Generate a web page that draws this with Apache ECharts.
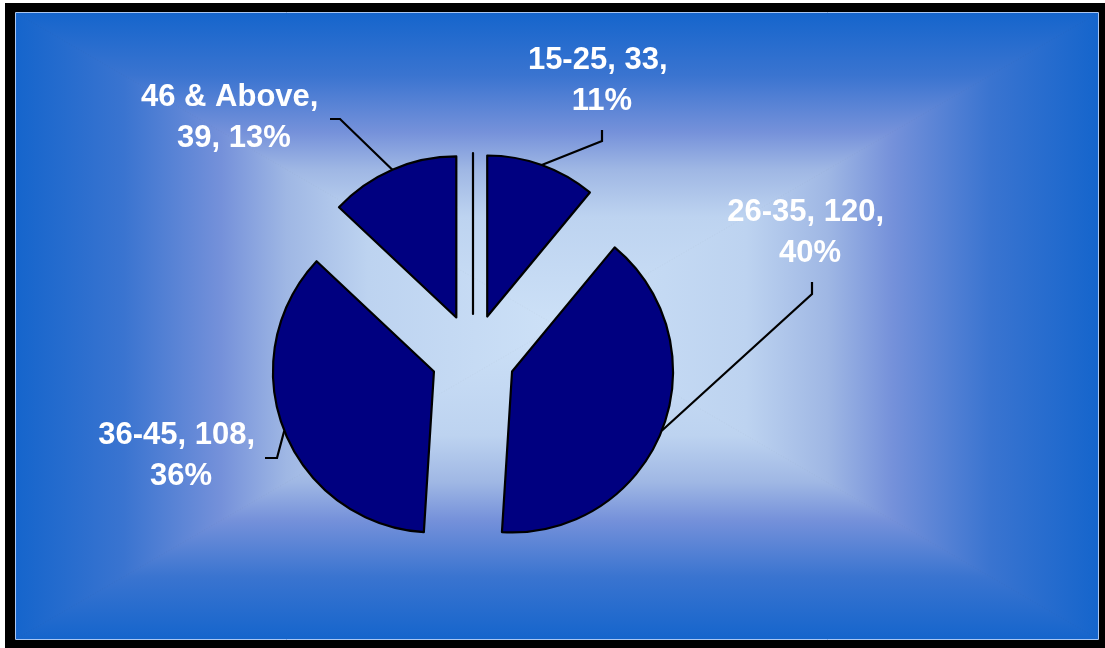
<!DOCTYPE html>
<html>
<head>
<meta charset="utf-8">
<script src="https://cdn.jsdelivr.net/npm/echarts@6/dist/echarts.min.js"></script>
<style>
  html, body { margin: 0; padding: 0; background: #fff; }
  #chart { width: 1105px; height: 648px; }
</style>
</head>
<body>
<div id="chart"></div>
<script>
// age groups (first one is the empty group that only shows as a thin line)
var categories = ['', '15-25', '26-35', '36-45', '46 & Above'];
var counts = [0, 33, 120, 108, 39];

// label block centres and leader line bends (relative to the label centre)
var labelSpots = [null, [602, 81], [810, 233], [181, 456], [234, 118]];
var lineBends = [null,
  [[0, 60], [0, 49]],
  [[2, 61], [2, 49]],
  [[96, 2], [84, 2]],
  [[106, 1], [96, 1]]
];

var PIE_C = [473, 356], PIE_R = 161, EXPLODE = 42;
var L = 16, T = 13, R = 1098, B = 639;
var cx = (L + R) / 2, cy = (T + B) / 2;

function fade(x, y, x2, y2) {
  return {
    type: 'linear', x: x, y: y, x2: x2, y2: y2,
    colorStops: [
      { offset: 0, color: '#1565cc' },
      { offset: 0.2, color: '#3a74d0' },
      { offset: 0.38, color: '#7591da' },
      { offset: 0.5, color: '#9fb7e4' },
      { offset: 0.65, color: '#bdd3f0' },
      { offset: 1, color: '#cde1f7' }
    ]
  };
}

function tri(pts, grad) {
  return {
    type: 'polygon', z: -10, silent: true,
    shape: { points: pts },
    style: { fill: grad, stroke: grad, lineWidth: 1 }
  };
}

function makeData(sel) {
  return categories.map(function (c, i) {
    var item = { name: c, value: counts[i], selected: sel };
    if (!labelSpots[i]) {
      item.label = { show: false };
      item.labelLine = { show: false };
    }
    return item;
  });
}

var labelFont = {
  formatter: '{b}, {c}, {d}%',
  fontFamily: '"Liberation Sans", Arial, sans-serif',
  fontWeight: 'bold',
  fontSize: 31,
  lineHeight: 41,
  width: 188,
  overflow: 'break',
  align: 'center'
};

var myChart = echarts.init(document.getElementById('chart'));

var option = {
  backgroundColor: 'transparent',
  animation: false,
  graphic: [
    { type: 'rect', z: -20, silent: true, shape: { x: 5, y: 3, width: 1100, height: 645 }, style: { fill: '#000' } },
    tri([[L, T], [R, T], [cx, cy]], fade(0, 0, 0, 1)),
    tri([[L, B], [R, B], [cx, cy]], fade(0, 1, 0, 0)),
    tri([[L, T], [L, B], [cx, cy]], fade(0, 0, 1, 0)),
    tri([[R, T], [R, B], [cx, cy]], fade(1, 0, 0, 0)),
    { type: 'rect', z: -5, silent: true, shape: { x: L - 0.5, y: T - 0.5, width: R - L + 1, height: B - T + 1 }, style: { fill: null, stroke: '#a9c6f2', lineWidth: 1 } }
  ],
  series: [{
    // exploded slices + leader lines
    type: 'pie',
    center: PIE_C,
    radius: PIE_R,
    startAngle: 90,
    clockwise: true,
    selectedMode: 'multiple',
    selectedOffset: EXPLODE,
    avoidLabelOverlap: false,
    percentPrecision: 0,
    minShowLabelAngle: 0,
    silent: true,
    itemStyle: { color: '#000080', borderColor: '#000', borderWidth: 2.2 },
    label: echarts.util.extend({ show: true, position: 'outside', color: 'rgba(0,0,0,0)' }, labelFont),
    labelLine: { show: true, lineStyle: { color: '#000', width: 2.2 } },
    labelLayout: function (params) {
      var i = params.dataIndex;
      var p = labelSpots[i];
      if (!p || !params.labelLinePoints) return {};
      var start = params.labelLinePoints[0];
      // the line gets moved along with its slice, so take that shift back out
      var vx = start[0] - PIE_C[0], vy = start[1] - PIE_C[1];
      var len = Math.sqrt(vx * vx + vy * vy) || 1;
      var ox = vx / len * EXPLODE, oy = vy / len * EXPLODE;
      var b = lineBends[i];
      return {
        labelLinePoints: [
          start,
          [p[0] + b[0][0] - ox, p[1] + b[0][1] - oy],
          [p[0] + b[1][0] - ox, p[1] + b[1][1] - oy]
        ]
      };
    },
    data: makeData(true)
  }, {
    // label texts
    type: 'pie',
    center: PIE_C,
    radius: PIE_R,
    startAngle: 90,
    clockwise: true,
    selectedMode: false,
    avoidLabelOverlap: false,
    percentPrecision: 0,
    minShowLabelAngle: 0,
    silent: true,
    z: 5,
    itemStyle: { color: 'rgba(0,0,0,0)', borderWidth: 0 },
    label: echarts.util.extend({ show: true, position: 'outside', color: '#fff' }, labelFont),
    labelLine: { show: false },
    labelLayout: function (params) {
      var p = labelSpots[params.dataIndex];
      if (!p) return {};
      return { x: p[0], y: p[1], align: 'center', verticalAlign: 'middle' };
    },
    data: makeData(false)
  }]
};

myChart.setOption(option);
</script>
</body>
</html>
